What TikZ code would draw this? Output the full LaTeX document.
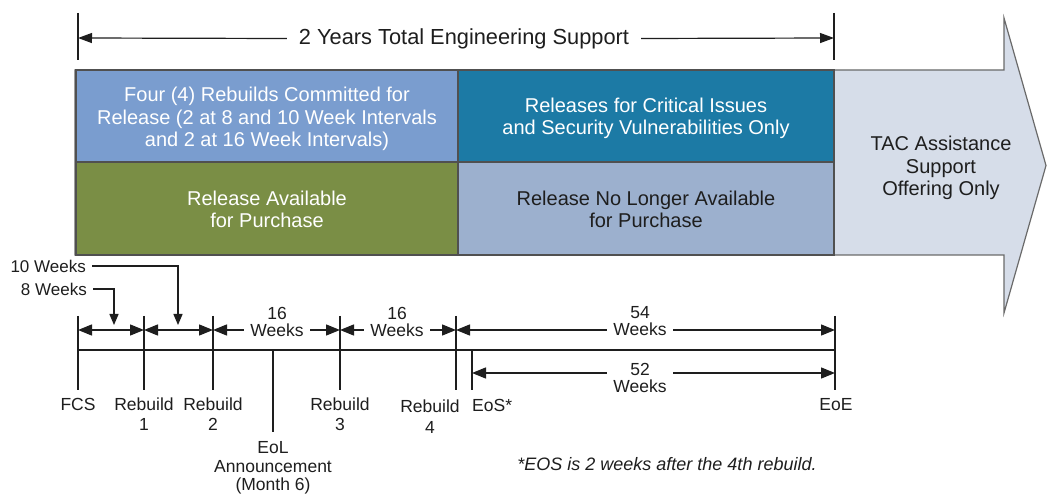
\documentclass[tikz,border=0pt]{standalone}
\usepackage{fontspec}
\setmainfont{Liberation Sans}
\usetikzlibrary{arrows.meta}
\definecolor{boxA}{RGB}{122,157,207}
\definecolor{boxB}{RGB}{28,122,165}
\definecolor{boxC}{RGB}{122,142,69}
\definecolor{boxD}{RGB}{156,176,206}
\definecolor{arrowfill}{RGB}{214,221,233}
\definecolor{edgegray}{RGB}{80,80,80}
\definecolor{ink}{RGB}{30,30,30}
\begin{document}
\begin{tikzpicture}[x=1pt,y=-1pt,
  tl/.style={draw=ink, line width=1.4pt},
  dim/.style={tl, {Triangle[length=14pt,width=11pt]}-{Triangle[length=14pt,width=11pt]}},
  ptr/.style={tl, -{Triangle[length=11pt,width=9pt]}},
  boxnode/.style={draw=edgegray, line width=1.2pt, inner sep=0pt, outer sep=0pt},
  boxtext/.style={font=\fontsize{20}{22.5}\selectfont, align=center, inner sep=0pt},
  lbl/.style={font=\fontsize{17.5}{20}\selectfont, align=center, inner sep=0pt, text=ink},
  wk/.style={font=\fontsize{17.5}{17}\selectfont, align=center, text=ink, fill=white, inner xsep=6pt, inner ysep=1pt},
]
\useasboundingbox (0,0) rectangle (1047,494);
\fill[white] (0,0) rectangle (1047,494);

% big arrow
\draw[draw=edgegray!85, line width=1.2pt, fill=arrowfill]
  (75,70) -- (1004,70) -- (1004,18) -- (1046,165.5) -- (1004,313) -- (1004,255) -- (75,255) -- cycle;
\node[boxtext, text=ink] (tac) at (941,168)
  {TAC Assistance\\Support\\Offering Only};

% boxes
\node[boxnode, fill=boxA, minimum width=382pt, minimum height=92pt] (bA) at (267,116) {};
\node[boxnode, fill=boxB, minimum width=376pt, minimum height=92pt] (bB) at (646,116) {};
\node[boxnode, fill=boxC, minimum width=382pt, minimum height=93pt] (bC) at (267,208.5) {};
\node[boxnode, fill=boxD, minimum width=376pt, minimum height=93pt] (bD) at (646,208.5) {};
\node[boxtext, text=white] (tA) at ([yshift=-3pt]bA.center)
  {Four (4) Rebuilds Committed for\\Release (2 at 8 and 10 Week Intervals\\and 2 at 16 Week Intervals)};
\node[boxtext, text=white] (tB) at ([yshift=-2.5pt]bB.center)
  {Releases for Critical Issues\\and Security Vulnerabilities Only};
\node[boxtext, text=white] (tC) at ([yshift=-1pt]bC.center)
  {Release Available\\for Purchase};
\node[boxtext, text=ink] (tD) at ([yshift=-1pt]bD.center)
  {Release No Longer Available\\for Purchase};

% top dimension
\coordinate (topLa) at (78,13); \coordinate (topLb) at (78,60);
\coordinate (topRa) at (834,13); \coordinate (topRb) at (834,60);
\coordinate (topL) at (78,38); \coordinate (topR) at (834,38);
\draw[tl, line width=1.2pt] (topLa) -- (topLb);
\draw[tl, line width=1.2pt] (topRa) -- (topRb);
\node[font=\fontsize{21.8}{24}\selectfont, text=ink, inner xsep=12pt, inner ysep=0pt] (title) at (464,38.5) {2 Years Total Engineering Support};
\draw[tl, line width=1.2pt, -{Triangle[length=14pt,width=10pt]}] (title.west) -- (topL);
\draw[tl, line width=1.2pt, -{Triangle[length=14pt,width=10pt]}] (title.east) -- (topR);

% timeline ticks
\coordinate (fcsT) at (78,316);  \coordinate (fcsB) at (78,390);
\coordinate (r1T) at (144,316);  \coordinate (r1B) at (144,390);
\coordinate (r2T) at (213,316);  \coordinate (r2B) at (213,390);
\coordinate (eolT) at (273,350); \coordinate (eolB) at (273,432);
\coordinate (r3T) at (340,316);  \coordinate (r3B) at (340,390);
\coordinate (r4T) at (456,316);  \coordinate (r4B) at (456,390);
\coordinate (eosT) at (472,350); \coordinate (eosB) at (472,390);
\coordinate (eoeT) at (835,316); \coordinate (eoeB) at (835,390);
\foreach \t in {fcs,r1,r2,eol,r3,r4,eos,eoe} \draw[tl] (\t T) -- (\t B);
\coordinate (lineL) at (78,350); \coordinate (lineR) at (835,350);
\draw[tl] (lineL) -- (lineR);

% dimension arrows
\coordinate (d0) at (78,330);  \coordinate (d1) at (144,330);
\coordinate (d2) at (213,330); \coordinate (d3) at (340,330);
\coordinate (d4) at (456,330); \coordinate (d5) at (835,330);
\coordinate (e0) at (472,373); \coordinate (e1) at (835,373);
\draw[dim] (d0) -- (d1);
\draw[dim] (d1) -- (d2);
\draw[dim] (d2) -- (d3);
\draw[dim] (d3) -- (d4);
\draw[dim] (d4) -- (d5);
\draw[dim] (e0) -- (e1);
\node[wk] (w16a) at (277,321.5) {16\\Weeks};
\node[wk] (w16b) at (397,321.5) {16\\Weeks};
\node[wk] (w54) at (640,321.5) {54\\Weeks};
\node[wk] (w52) at (640,377.5) {52\\Weeks};

% pointers
\node[lbl, anchor=east, inner xsep=6pt, font=\fontsize{17}{20}\selectfont] (w10) at (92,266) {10 Weeks};
\node[lbl, anchor=east, inner xsep=6pt, font=\fontsize{17}{20}\selectfont] (w8) at (93,289) {8 Weeks};
\coordinate (a10) at (178,325);
\coordinate (a8) at (114,325);
\draw[ptr] (w10.east) -| (a10);
\draw[ptr] (w8.east) -| (a8);

% labels
\node[lbl, anchor=north] (fcs) at (78,398) {FCS};
\node[lbl, anchor=north] (rb1) at (144,398) {Rebuild\\1};
\node[lbl, anchor=north] (rb2) at (213,398) {Rebuild\\2};
\node[lbl, anchor=north, font=\fontsize{17.5}{18.5}\selectfont] (eol) at (273,441.5) {EoL\\Announcement\\(Month 6)};
\node[lbl, anchor=north] (rb3) at (340,398) {Rebuild\\3};
\node[lbl, anchor=north, font=\fontsize{17.5}{21}\selectfont] (rb4) at (430,400) {Rebuild\\4};
\node[lbl, anchor=north west] (eos) at (472,399) {EoS*};
\node[lbl, anchor=north] (eoe) at (836,398) {EoE};
\node[font=\itshape\fontsize{18}{20}\selectfont, text=ink] (note) at (667,464) {*EOS is 2 weeks after the 4th rebuild.};
\end{tikzpicture}
\end{document}
